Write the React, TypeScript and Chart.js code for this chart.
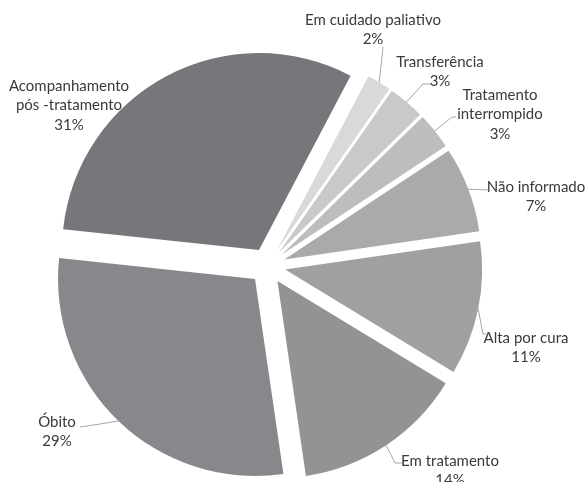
import React, { useEffect, useRef } from 'react';
import { Chart, registerables } from 'chart.js';

Chart.register(...registerables);

// ---- data ----
const categories = [
  'Em cuidado paliativo',
  'Transferência',
  'Tratamento\ninterrompido',
  'Não informado',
  'Alta por cura',
  'Em tratamento',
  'Óbito',
  'Acompanhamento\npós -tratamento',
];
const values = [2, 3, 3, 7, 11, 14, 29, 31];
const percentLabels = ['2%', '3%', '3%', '7%', '11%', '14%', '29%', '31%'];
const sliceColors = [
  '#d9d9db',
  '#c9c9cb',
  '#bdbdc0',
  '#aaaaad',
  '#a0a0a3',
  '#939396',
  '#88888c',
  '#77777b',
];

// ---- layout (label placement, not data) ----
const EXPLODE = 18;
const RADIUS = 197;
const ROTATION = 27.7;
const LINE_H = 19.5;
type LabelLayout = { x: number; y: number; lead: number[][] | null };
const labelLayout: LabelLayout[] = [
  { x: 373, y: 20, lead: [[383, 47]] },
  { x: 440, y: 62, lead: [[423, 84], [431, 84]] },
  { x: 500, y: 95, lead: [[452, 117], [456, 117]] },
  { x: 536, y: 187, lead: [[488, 190]] },
  { x: 526, y: 338, lead: [[483, 334], [486, 334]] },
  { x: 450, y: 461, lead: [[395, 463], [403, 463]] },
  { x: 57, y: 422, lead: [[100, 424], [80, 427]] },
  { x: 69, y: 86, lead: null },
];

const explodePlugin = {
  id: 'explodeSlices',
  beforeDatasetsDraw(chart: any) {
    const meta = chart.getDatasetMeta(0);
    const { left, right, top, bottom } = chart.chartArea;
    const cx = (left + right) / 2;
    const cy = (top + bottom) / 2;
    meta.data.forEach((el: any) => {
      const mid = (el.startAngle + el.endAngle) / 2;
      el.x = cx + Math.cos(mid) * EXPLODE;
      el.y = cy + Math.sin(mid) * EXPLODE;
    });
  },
};

const labelPlugin = {
  id: 'outsideLabels',
  afterDatasetsDraw(chart: any) {
    const ctx = chart.ctx;
    const meta = chart.getDatasetMeta(0);
    ctx.save();
    meta.data.forEach((el: any, i: number) => {
      const lay = labelLayout[i];
      const mid = (el.startAngle + el.endAngle) / 2;
      const ax = el.x + Math.cos(mid) * el.outerRadius;
      const ay = el.y + Math.sin(mid) * el.outerRadius;
      if (lay.lead) {
        ctx.beginPath();
        ctx.strokeStyle = '#a6a6a6';
        ctx.lineWidth = 1;
        ctx.moveTo(ax, ay);
        lay.lead.forEach((p) => ctx.lineTo(p[0], p[1]));
        ctx.stroke();
      }
      const lines = [...categories[i].split('\n'), percentLabels[i]];
      ctx.fillStyle = '#3a3a3a';
      ctx.font = '15px Lato';
      ctx.textAlign = 'center';
      ctx.textBaseline = 'middle';
      lines.forEach((t, k) => ctx.fillText(t, lay.x, lay.y + k * LINE_H));
    });
    ctx.restore();
  },
};

export default function App() {
  const ref = useRef<HTMLCanvasElement | null>(null);
  useEffect(() => {
    if (!ref.current) return;
    const chart = new Chart(ref.current, {
      type: 'pie',
      data: {
        labels: categories,
        datasets: [
          {
            data: values,
            backgroundColor: sliceColors,
            borderWidth: 0,
            clip: false as any,
          },
        ],
      },
      options: {
        responsive: false,
        animation: false,
        devicePixelRatio: 1,
        rotation: ROTATION,
        radius: RADIUS,
        layout: { padding: { left: 0, right: 50, top: 50, bottom: 0 } },
        plugins: {
          legend: { display: false },
          tooltip: { enabled: false },
        },
      } as any,
      plugins: [explodePlugin, labelPlugin],
    });
    return () => chart.destroy();
  }, []);
  return (
    <div style={{ position: 'fixed', left: 0, top: 0, width: 585, height: 482, background: '#fff' }}>
      <canvas ref={ref} width={585} height={482} style={{ display: 'block' }} />
    </div>
  );
}
